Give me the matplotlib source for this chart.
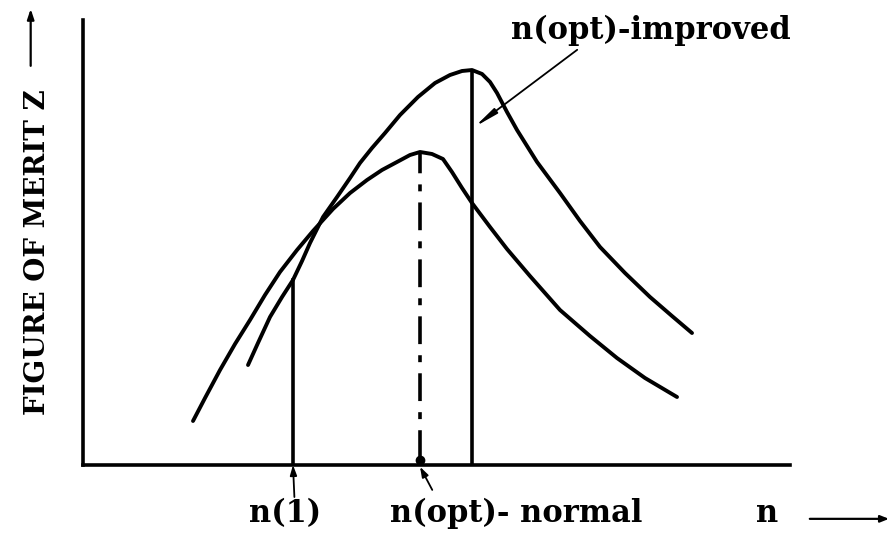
import matplotlib
matplotlib.use("Agg")
import matplotlib.pyplot as plt

plt.rcParams['lines.scale_dashes'] = False

# ---- data (schematic, arbitrary units: n 0..100, Z 0..100) ----
n_normal = [15.56, 17.26, 19.38, 21.50, 23.62, 25.74, 27.86, 30.27, 32.53, 35.36, 37.77, 40.17,
            42.29, 44.41, 46.25, 47.67, 49.36, 50.92, 52.19, 53.61, 55.02, 57.57, 59.97, 63.22,
            67.47, 71.71, 75.53, 79.49, 84.02]
z_normal = [9.89, 15.06, 21.35, 27.19, 32.58, 38.20, 43.37, 48.31, 52.58, 57.53, 61.12, 64.04,
            66.29, 68.09, 69.66, 70.34, 69.89, 68.76, 65.84, 62.25, 58.88, 53.48, 48.54, 42.47,
            34.83, 28.99, 24.04, 19.55, 15.28]

n_improved = [23.34, 24.75, 26.45, 28.15, 29.70, 30.98, 32.11, 33.95, 35.93, 37.77, 39.18, 40.88,
              42.72, 44.84, 47.38, 49.79, 51.91, 53.61, 55.02, 56.44, 57.57, 58.56, 59.97, 61.39,
              64.22, 67.47, 70.30, 73.13, 76.66, 80.20, 83.31, 86.14]
z_improved = [22.47, 27.42, 33.26, 37.75, 41.57, 45.84, 49.89, 55.73, 60.22, 64.49, 67.87, 71.24,
              74.61, 78.65, 82.70, 85.84, 87.64, 88.54, 88.76, 87.87, 86.07, 83.60, 79.33, 75.28,
              68.09, 61.12, 54.83, 48.99, 43.15, 37.75, 33.48, 29.66]

n1_pos, n1_top = 29.7, 41.6
nopt_normal_pos, nopt_normal_top = 47.67, 70.3
nopt_improved_pos, nopt_improved_top = 55.0, 88.6

ylabel = "FIGURE OF MERIT Z"
xlabel = "n"
label_n1 = "n(1)"
label_normal = "n(opt)- normal"
label_improved = "n(opt)-improved"

font = dict(family=['DejaVu Serif'], fontweight='bold', color='black')

fig = plt.figure(figsize=(8.9, 5.33), dpi=100)
ax = fig.add_axes([83/890, 68/533, 707/890, 445/533])
ax.set_xlim(0, 100)
ax.set_ylim(0, 100)
for s in ['top', 'right']:
    ax.spines[s].set_visible(False)
for s in ['left', 'bottom']:
    ax.spines[s].set_linewidth(2.6)
    ax.spines[s].set_capstyle('projecting')
ax.set_xticks([])
ax.set_yticks([])

lw = 2.8
ax.plot(n_normal, z_normal, color='black', lw=lw, solid_capstyle='round', solid_joinstyle='round')
ax.plot(n_improved, z_improved, color='black', lw=lw, solid_capstyle='round', solid_joinstyle='round')

ax.plot([n1_pos, n1_pos], [0, n1_top], color='black', lw=2.6)
ax.plot([nopt_improved_pos, nopt_improved_pos], [0, nopt_improved_top], color='black', lw=2.6)
ax.plot([nopt_normal_pos, nopt_normal_pos], [1.5, nopt_normal_top], color='black', lw=2.6,
        linestyle=(0, (20, 8, 5, 8)))
ax.plot([nopt_normal_pos], [1.2], 'o', color='black', ms=6)

# annotation for improved
ax.text(80.3, 97.6, label_improved, fontsize=22, ha='center', va='center', clip_on=False, **font)
ax.annotate('', xy=(55.4, 76.0), xytext=(69.9, 93.3),
            arrowprops=dict(arrowstyle='-|>,head_length=1.4,head_width=0.18', color='black', lw=1.3,
                            shrinkA=0, shrinkB=0), annotation_clip=False)

# bottom labels
ax.text(28.6, -10.8, label_n1, fontsize=22, ha='center', va='center', clip_on=False, **font)
ax.text(61.3, -10.8, label_normal, fontsize=22, ha='center', va='center', clip_on=False, **font)
ax.text(96.8, -11.0, xlabel, fontsize=22, ha='center', va='center', clip_on=False, **font)
ax.annotate('', xy=(n1_pos, 0.0), xytext=(29.9, -7.2),
            arrowprops=dict(arrowstyle='-|>,head_length=0.6,head_width=0.2', color='black', lw=1.3,
                            shrinkA=0, shrinkB=0), annotation_clip=False)
ax.annotate('', xy=(nopt_normal_pos, -0.4), xytext=(49.4, -5.6),
            arrowprops=dict(arrowstyle='-|>,head_length=0.6,head_width=0.2', color='black', lw=1.3,
                            shrinkA=0, shrinkB=0), annotation_clip=False)
ax.annotate('', xy=(114.0, -12.1), xytext=(102.8, -12.1),
            arrowprops=dict(arrowstyle='-|>,head_length=0.5,head_width=0.2', color='black', lw=1.6,
                            shrinkA=0, shrinkB=0), annotation_clip=False)

# y label and arrow
ax.text(-6.4, 47.9, ylabel, fontsize=20, rotation=90, ha='center', va='center', clip_on=False, **font)
ax.annotate('', xy=(-7.4, 102.5), xytext=(-7.4, 89.7),
            arrowprops=dict(arrowstyle='-|>,head_length=0.6,head_width=0.2', color='black', lw=1.6,
                            shrinkA=0, shrinkB=0), annotation_clip=False)

fig.savefig('out.png', dpi=100)
